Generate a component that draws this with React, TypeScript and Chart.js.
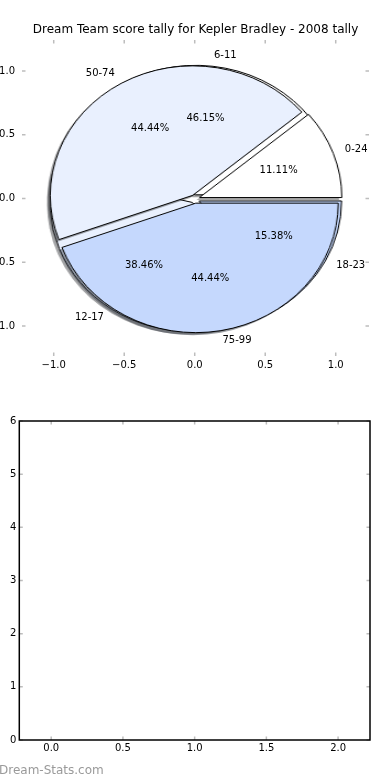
import React, { useEffect, useRef } from "react";
import { Chart, registerables } from "chart.js";

Chart.register(...registerables);

// ---------------- data ----------------
const TITLE = "Dream Team score tally for Kepler Bradley - 2008 tally";
const WATERMARK = "Dream-Stats.com";

const pieALabels = ["0-24", "50-74", "75-99"];
const pieAValues = [1, 4, 4];
const pieBLabels = ["6-11", "12-17", "18-23"];
const pieBValues = [6, 5, 2];
const pieColors = ["#ffffff", "#e9f0fe", "#c5d8fd"];
const explodeFrac = 0.033;

const topTicks = [-1, -0.5, 0, 0.5, 1];
const bottomXTicks = [0, 0.5, 1, 1.5, 2];
const bottomYTicks = [0, 1, 2, 3, 4, 5, 6];
const bottomSeries: { x: number; y: number }[] = [];

// ---------------- styling / geometry ----------------
const FONT = "DejaVu Sans";
const UNIT_Y = 127.5; // px per data unit vertically (top axes)
const PIE_R = 129.5; // pie radius in px (vertical)
const PIE_STRETCH = 1.1; // horizontal / vertical scale of the top axes
const PIE_CANVAS = 300;
const PIE_CX = 194.7;
const PIE_CY = 198.5;
const SHADOW = -0.02; // data units (matplotlib shadow offset)

const fmtTop = (v: number) => (v < 0 ? "\u2212" : "") + Math.abs(v).toFixed(1);

function shadowColor(hex: string) {
  const h = hex.replace("#", "");
  const r = parseInt(h.slice(0, 2), 16);
  const g = parseInt(h.slice(2, 4), 16);
  const b = parseInt(h.slice(4, 6), 16);
  return `rgba(${Math.round(r * 0.3)},${Math.round(g * 0.3)},${Math.round(b * 0.3)},0.5)`;
}

const explodePlugin = {
  id: "explodeShadow",
  beforeDatasetDraw(chart: any, args: any) {
    const ctx = chart.ctx;
    const arcs = args.meta.data;
    const ds = chart.data.datasets[args.index];
    const e = explodeFrac * UNIT_Y;
    const off = (arc: any) => {
      const mid = (arc.startAngle + arc.endAngle) / 2;
      return [Math.cos(mid) * e, Math.sin(mid) * e];
    };
    const sdx = SHADOW * UNIT_Y;
    const sdy = -SHADOW * UNIT_Y;
    arcs.forEach((arc: any, i: number) => {
      const [dx, dy] = off(arc);
      ctx.save();
      ctx.translate(dx + sdx, dy + sdy);
      ctx.beginPath();
      ctx.moveTo(arc.x, arc.y);
      ctx.arc(arc.x, arc.y, arc.outerRadius, arc.startAngle, arc.endAngle);
      ctx.closePath();
      ctx.fillStyle = shadowColor(ds.backgroundColor[i]);
      ctx.fill();
      ctx.restore();
    });
    arcs.forEach((arc: any) => {
      const [dx, dy] = off(arc);
      ctx.save();
      ctx.translate(dx, dy);
      arc.draw(ctx);
      ctx.restore();
    });
    return false;
  },
};

function innerTicks(frame: boolean) {
  return {
    id: "innerTicks",
    afterDraw(chart: any) {
      const { ctx, chartArea: a } = chart;
      const xs = chart.scales.x;
      const ys = chart.scales.y;
      const L = 3.5;
      ctx.save();
      ctx.strokeStyle = "#bdbdbd";
      ctx.lineWidth = 1.5;
      ctx.beginPath();
      xs.ticks.forEach((t: any) => {
        const px = xs.getPixelForValue(t.value);
        ctx.moveTo(px, a.top);
        ctx.lineTo(px, a.top + L);
        ctx.moveTo(px, a.bottom);
        ctx.lineTo(px, a.bottom - L);
      });
      ys.ticks.forEach((t: any) => {
        const py = ys.getPixelForValue(t.value);
        ctx.moveTo(a.left, py);
        ctx.lineTo(a.left + L, py);
        ctx.moveTo(a.right, py);
        ctx.lineTo(a.right - L, py);
      });
      ctx.stroke();
      if (frame) {
        ctx.strokeStyle = "#000";
        ctx.lineWidth = 1.5;
        ctx.strokeRect(a.left, a.top, a.right - a.left, a.bottom - a.top);
      }
      ctx.restore();
    },
  };
}

const pieLabelPlugin = {
  id: "pieLabels",
  afterDraw(chart: any) {
    const { ctx } = chart;
    const xs = chart.scales.x;
    const ys = chart.scales.y;
    ctx.save();
    ctx.font = `10px "${FONT}"`;
    ctx.fillStyle = "#000";
    ctx.textBaseline = "middle";
    const pies: [string[], number[]][] = [
      [pieBLabels, pieBValues],
      [pieALabels, pieAValues],
    ];
    pies.forEach(([labels, values]) => {
      const total = values.reduce((s, v) => s + v, 0);
      let start = 0;
      values.forEach((v, i) => {
        const frac = v / total;
        const mid = (start + frac / 2) * 2 * Math.PI;
        start += frac;
        const c = Math.cos(mid);
        const s = Math.sin(mid);
        const cx = explodeFrac * c;
        const cy = explodeFrac * s;
        const lx = cx + 1.1 * c;
        const ly = cy + 1.1 * s;
        ctx.textAlign = lx > 0 ? "left" : "right";
        ctx.fillText(labels[i], xs.getPixelForValue(lx), ys.getPixelForValue(ly));
        ctx.textAlign = "center";
        ctx.fillText(
          (100 * frac).toFixed(2) + "%",
          xs.getPixelForValue(cx + 0.6 * c),
          ys.getPixelForValue(cy + 0.6 * s)
        );
      });
    });
    ctx.restore();
  },
};

function makePie(canvas: HTMLCanvasElement, labels: string[], values: number[]) {
  const rev = <T,>(a: T[]) => [...a].reverse();
  return new Chart(canvas, {
    type: "pie",
    data: {
      labels: rev(labels),
      datasets: [
        {
          data: rev(values),
          backgroundColor: rev(pieColors.slice(0, values.length)),
          borderColor: "#000000",
          borderWidth: 1,
          borderJoinStyle: "miter",
        } as any,
      ],
    },
    options: {
      animation: false,
      responsive: false,
      events: [],
      rotation: 90,
      radius: PIE_R,
      layout: { padding: 0 },
      plugins: { legend: { display: false }, tooltip: { enabled: false } },
    } as any,
    plugins: [explodePlugin as any],
  });
}

const tickFont = { family: FONT, size: 10 };
const noGrid = { display: false, drawTicks: false };

export default function App() {
  const topRef = useRef<HTMLCanvasElement>(null);
  const pieARef = useRef<HTMLCanvasElement>(null);
  const pieBRef = useRef<HTMLCanvasElement>(null);
  const botRef = useRef<HTMLCanvasElement>(null);

  useEffect(() => {
    const charts: Chart[] = [];
    charts.push(makePie(pieBRef.current!, pieBLabels, pieBValues));
    charts.push(makePie(pieARef.current!, pieALabels, pieAValues));

    charts.push(
      new Chart(topRef.current!, {
        type: "scatter",
        data: { datasets: [] },
        options: {
          animation: false,
          responsive: false,
          events: [],
          layout: { padding: { left: 0, right: 21, top: 0, bottom: 0 } },
          plugins: {
            legend: { display: false },
            tooltip: { enabled: false },
            title: {
              display: true,
              text: TITLE,
              fullSize: false,
              color: "#000",
              font: { family: FONT, size: 12, weight: "normal" },
              padding: { top: 22.8, bottom: 2.8 },
            },
          },
          scales: {
            x: {
              type: "linear",
              min: -1.225,
              max: 1.236,
              afterBuildTicks: (ax: any) => {
                ax.ticks = topTicks.map((v) => ({ value: v }));
              },
              afterFit: (ax: any) => {
                ax.height = 24;
              },
              grid: noGrid,
              border: { display: false },
              ticks: {
                font: tickFont,
                color: "#000",
                padding: 3,
                maxRotation: 0,
                autoSkip: false,
                callback: (v: any) => fmtTop(Number(v)),
              },
            },
            y: {
              type: "linear",
              min: -1.235,
              max: 1.243,
              afterBuildTicks: (ax: any) => {
                ax.ticks = topTicks.map((v) => ({ value: v }));
              },
              afterFit: (ax: any) => {
                ax.width = 22;
              },
              grid: noGrid,
              border: { display: false },
              ticks: {
                font: tickFont,
                color: "#000",
                padding: 7,
                autoSkip: false,
                callback: (v: any) => fmtTop(Number(v)),
              },
            },
          },
        } as any,
        plugins: [innerTicks(false) as any, pieLabelPlugin as any],
      })
    );

    charts.push(
      new Chart(botRef.current!, {
        type: "scatter",
        data: { datasets: [{ data: bottomSeries, pointRadius: 0 }] },
        options: {
          animation: false,
          responsive: false,
          events: [],
          layout: { padding: { left: 0, right: 20, top: 41, bottom: 0 } },
          plugins: { legend: { display: false }, tooltip: { enabled: false } },
          scales: {
            x: {
              type: "linear",
              min: -0.2225,
              max: 2.2225,
              afterBuildTicks: (ax: any) => {
                ax.ticks = bottomXTicks.map((v) => ({ value: v }));
              },
              afterFit: (ax: any) => {
                ax.height = 40;
              },
              grid: noGrid,
              border: { display: false },
              ticks: {
                font: tickFont,
                color: "#000",
                padding: 2,
                maxRotation: 0,
                autoSkip: false,
                callback: (v: any) => Number(v).toFixed(1),
              },
            },
            y: {
              type: "linear",
              min: 0,
              max: 6,
              afterBuildTicks: (ax: any) => {
                ax.ticks = bottomYTicks.map((v) => ({ value: v }));
              },
              afterFit: (ax: any) => {
                ax.width = 19.3;
              },
              grid: noGrid,
              border: { display: false },
              ticks: {
                font: tickFont,
                color: "#000",
                padding: 3,
                autoSkip: false,
                callback: (v: any) => String(Number(v)),
              },
            },
          },
        } as any,
        plugins: [innerTicks(true) as any],
      })
    );

    return () => charts.forEach((c) => c.destroy());
  }, []);

  const pieStyle = (z: number): React.CSSProperties => ({
    position: "absolute",
    left: PIE_CX - PIE_CANVAS / 2,
    top: PIE_CY - PIE_CANVAS / 2,
    transform: `scaleX(${PIE_STRETCH})`,
    transformOrigin: "50% 50%",
    zIndex: z,
  });

  return (
    <div
      style={{
        position: "absolute",
        left: 0,
        top: 0,
        width: 390,
        height: 780,
        overflow: "hidden",
        background: "#ffffff",
      }}
    >
      <canvas ref={pieBRef} width={PIE_CANVAS} height={PIE_CANVAS} style={pieStyle(1)} />
      <canvas ref={pieARef} width={PIE_CANVAS} height={PIE_CANVAS} style={pieStyle(2)} />
      <canvas
        ref={topRef}
        width={390}
        height={380}
        style={{ position: "absolute", left: 0, top: 0, zIndex: 3 }}
      />
      <canvas
        ref={botRef}
        width={390}
        height={400}
        style={{ position: "absolute", left: 0, top: 380, zIndex: 3 }}
      />
      <div
        style={{
          position: "absolute",
          left: -1,
          top: 762,
          fontFamily: FONT,
          fontSize: 12,
          lineHeight: "16px",
          color: "#9a9a9a",
          zIndex: 4,
          whiteSpace: "nowrap",
        }}
      >
        {WATERMARK}
      </div>
    </div>
  );
}
